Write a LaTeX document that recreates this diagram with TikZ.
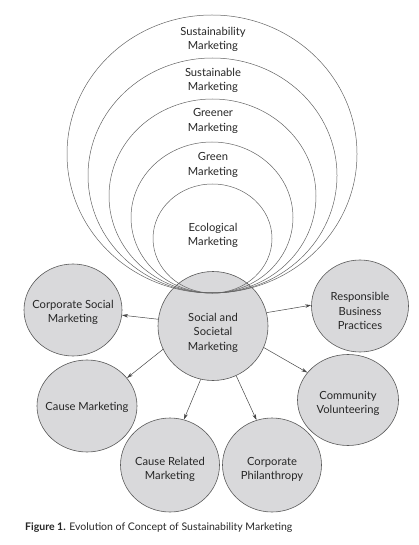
\documentclass[tikz,border=0pt]{standalone}
\usepackage{fontspec}
\setmainfont{Lato}
\usetikzlibrary{shapes.geometric,arrows.meta}
\definecolor{bubfill}{RGB}{217,217,219}
\definecolor{bubline}{RGB}{90,90,90}
\definecolor{ringline}{RGB}{100,100,100}
\definecolor{arrline}{RGB}{70,70,70}
\begin{document}
\begin{tikzpicture}[x=1pt,y=-1pt,
  bub/.style={ellipse,draw=bubline,fill=bubfill,line width=0.6pt,inner sep=0pt},
  ring/.style={ellipse,draw=ringline,line width=0.5pt,inner sep=0pt},
  lbl/.style={align=center,inner sep=0pt,font=\fontsize{11.2}{14.5}\selectfont,text=black!85},
  arr/.style={draw=arrline,line width=0.5pt,-{Stealth[length=6pt,width=3.5pt]}}]
\useasboundingbox (0,0) rectangle (419,545);
% satellite bubbles
\node[bub,minimum width=110pt,minimum height=109pt] (soc) at (213,326) {};
\node[bub,minimum width=98pt,minimum height=92pt] (csm) at (73,310) {};
\node[bub,minimum width=100pt,minimum height=92pt] (cm) at (87,406) {};
\node[bub,minimum width=99pt,minimum height=94pt] (crm) at (170,465) {};
\node[bub,minimum width=99pt,minimum height=94pt] (cp) at (272,465) {};
\node[bub,minimum width=101pt,minimum height=91pt] (cv) at (348,400) {};
\node[bub,minimum width=97pt,minimum height=92pt] (rbp) at (360,306) {};
% nested rings, all touching at the bottom point
\node[ring,minimum width=290pt,minimum height=278pt] (r1) at (212,154) {};
\node[ring,minimum width=249pt,minimum height=235pt] (r2) at (212.5,175.5) {};
\node[ring,minimum width=207pt,minimum height=194pt] (r3) at (212.5,196) {};
\node[ring,minimum width=162pt,minimum height=151pt] (r4) at (212,217.5) {};
\node[ring,minimum width=119pt,minimum height=109pt] (r5) at (212.5,238.5) {};
% ring labels
\node[lbl] (t1) at (213,39.5) {Sustainability\\Marketing};
\node[lbl] (t2) at (213,80.5) {Sustainable\\Marketing};
\node[lbl] (t3) at (213,121) {Greener\\Marketing};
\node[lbl] (t4) at (213,165) {Green\\Marketing};
\node[lbl] (t5) at (213,235.5) {Ecological\\Marketing};
% bubble labels
\node[lbl] (soct) at (213,332.5) {Social and\\Societal\\Marketing};
\node[lbl] (csmt) at (73,312.5) {Corporate Social\\Marketing};
\node[lbl] (cmt) at (87,407) {Cause Marketing};
\node[lbl] (crmt) at (170,469.5) {Cause Related\\Marketing};
\node[lbl] (cpt) at (272,469.5) {Corporate\\Philanthropy};
\node[lbl] (cvt) at (348,403.5) {Community\\Volunteering};
\node[lbl] (rbpt) at (360,311) {Responsible\\Business\\Practices};
% arrows
\draw[arr] (soc.173) -- (csm.354);
\draw[arr] (soc.205) -- (cm.35);
\draw[arr] (soc.257) -- (crm.73);
\draw[arr] (soc.295) -- (cp.109);
\draw[arr] (soc.-23) -- (cv.146);
\draw[arr] (soc.14) -- (rbp.179);
% caption
\node[anchor=west,inner sep=0pt,font=\fontsize{10.5}{12}\selectfont,text=black!85] (cap) at (25,528)
  {\textbf{Figure 1.} Evolution of Concept of Sustainability Marketing};
\end{tikzpicture}
\end{document}
